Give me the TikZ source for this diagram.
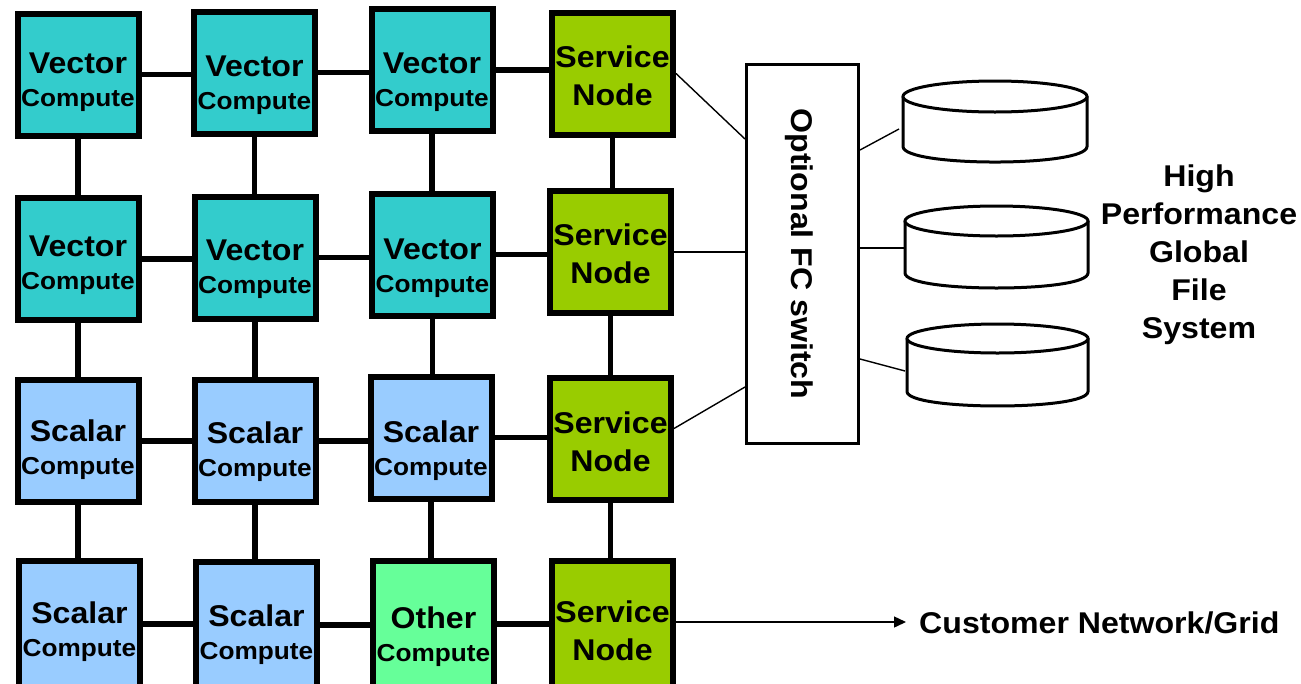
\documentclass[tikz,border=0pt]{standalone}
\usepackage{fontspec}
\usepackage{graphicx}
\setmainfont{Liberation Sans}
\usetikzlibrary{arrows.meta}
\definecolor{vec}{RGB}{51,204,204}
\definecolor{svc}{RGB}{153,204,0}
\definecolor{sca}{RGB}{153,204,255}
\definecolor{oth}{RGB}{102,255,153}
\newcommand\wide[1]{\scalebox{1.07}[1]{#1}}
\newcommand\compcell[6]{%
  \node[cell,#4] (#1) at (#2,#3) {};
  \node[bigtxt] (#1a) at (#2,#6) {\wide{#5}};
  \node[smalltxt] (#1b) at (#2,#6+33) {\wide{Compute}};}
\newcommand\servcell[5]{%
  \node[cell,fill=svc,#5] (#1) at (#2,#3) {};
  \node[bigtxt] (#1a) at (#2,#4) {\wide{Service}};
  \node[bigtxt] (#1b) at (#2,#4+38) {\wide{Node}};}
\begin{document}
\begin{tikzpicture}[x=1pt,y=-1pt,
  cell/.style={draw=black,line width=6pt,minimum width=121pt,minimum height=122pt,inner sep=0pt},
  tall/.style={minimum height=140pt},
  bigtxt/.style={font=\bfseries\fontsize{30}{30}\selectfont,anchor=base,inner sep=0pt},
  smalltxt/.style={font=\bfseries\fontsize{24.5}{24.5}\selectfont,anchor=base,inner sep=0pt},
  link/.style={line width=5.5pt},
  thinlink/.style={line width=1.4pt},
  cyl/.style={line width=3pt,fill=white},
  label/.style={font=\bfseries\fontsize{30}{38}\selectfont,inner sep=0pt},
]
\useasboundingbox (0,0) rectangle (1301,683);
\clip (0,0) rectangle (1301,683);

% row 0
\compcell{v00}{78}{74.5}{fill=vec}{Vector}{73}
\compcell{v01}{254.5}{72.5}{fill=vec}{Vector}{76}
\compcell{v02}{432}{70}{fill=vec}{Vector}{73}
\servcell{s03}{612.5}{73.5}{67}{}
% row 1
\compcell{v10}{78}{259}{fill=vec}{Vector}{256}
\compcell{v11}{255}{257.5}{fill=vec}{Vector}{260}
\compcell{v12}{432.5}{254.5}{fill=vec}{Vector}{259}
\servcell{s13}{610.5}{252}{245}{}
% row 2
\compcell{c20}{78}{441}{fill=sca}{Scalar}{441}
\compcell{c21}{255}{441}{fill=sca}{Scalar}{443}
\compcell{c22}{431}{437.5}{fill=sca}{Scalar}{442}
\servcell{s23}{610.5}{438.5}{433}{}
% row 3 (cut off by the lower edge)
\compcell{c30}{79.5}{631}{fill=sca,tall}{Scalar}{623}
\compcell{c31}{256.5}{632}{fill=sca,tall}{Scalar}{626}
\compcell{o32}{433.5}{631}{fill=oth,tall}{Other}{628}
\servcell{s33}{612.5}{631}{622}{tall}

% horizontal links
\foreach \r in {0,1}{
  \draw[link] (v\r0.east) -- (v\r0.east -| v\r1.west);
  \draw[link] (v\r1.east) -- (v\r1.east -| v\r2.west);
  \draw[link] (v\r2.east) -- (v\r2.east -| s\r3.west);}
\draw[link] (c20.east) -- (c20.east -| c21.west);
\draw[link] (c21.east) -- (c21.east -| c22.west);
\draw[link] (c22.east) -- (c22.east -| s23.west);
\draw[link] ([yshift=7pt]c30.east) -- ([yshift=7pt]c30.east -| c31.west);
\draw[link] ([yshift=7pt]c31.east) -- ([yshift=7pt]c31.east -| o32.west);
\draw[link] ([yshift=7pt]o32.east) -- ([yshift=7pt]o32.east -| s33.west);
% vertical links
\draw[link] (v00.south) -- (v00.south |- v10.north);
\draw[link] (v01.south) -- (v01.south |- v11.north);
\draw[link] (v02.south) -- (v02.south |- v12.north);
\draw[link] (s03.south) -- (s03.south |- s13.north);
\draw[link] (v10.south) -- (v10.south |- c20.north);
\draw[link] (v11.south) -- (v11.south |- c21.north);
\draw[link] (v12.south) -- (v12.south |- c22.north);
\draw[link] (s13.south) -- (s13.south |- s23.north);
\draw[link] (c20.south) -- (c20.south |- c30.north);
\draw[link] (c21.south) -- (c21.south |- c31.north);
\draw[link] (c22.south) -- (c22.south |- o32.north);
\draw[link] (s23.south) -- (s23.south |- s33.north);

% switch
\node[draw=black,line width=3pt,minimum width=112pt,minimum height=379pt,inner sep=0pt,fill=white] (sw) at (802.5,254) {};
\node[label,rotate=-90] (swt) at (799,254) {\wide{Optional FC switch}};
\draw[thinlink] (s03.east) -- ([yshift=115pt]sw.west);
\draw[thinlink] (s13.east) -- (s13.east -| sw.west);
\draw[thinlink] ([yshift=10pt]s23.east) -- ([yshift=-133pt]sw.west);

% storage cylinders
\draw[cyl] (903,96.5) -- (903,146.5) .. controls (903,167.2) and (1087,167.2) .. (1087,146.5) -- (1087,96.5);
\draw[cyl] (995,96.5) ellipse [x radius=92pt, y radius=15.5pt];
\draw[cyl] (905,221) -- (905,273) .. controls (905,293) and (1088,293) .. (1088,273) -- (1088,221);
\draw[cyl] (996.5,221) ellipse [x radius=91.5pt, y radius=15pt];
\draw[cyl] (907,338.5) -- (907,391.5) .. controls (907,410.8) and (1088,410.8) .. (1088,391.5) -- (1088,338.5);
\draw[cyl] (997.5,338.5) ellipse [x radius=90.5pt, y radius=14.5pt];
\coordinate (cy1) at (899,129);
\coordinate (cy2) at (905,248);
\coordinate (cy3) at (905,371);
\draw[thinlink] ([yshift=104pt]sw.east) -- (cy1);
\draw[thinlink] ([yshift=6pt]sw.east) -- (cy2);
\draw[thinlink] ([yshift=-105pt]sw.east) -- (cy3);

\node[label,align=center] (fs) at (1199,255) {\wide{High}\\\wide{Performance}\\\wide{Global}\\\wide{File}\\\wide{System}};

% customer network
\node[label,anchor=base west] (cust) at (919,633) {\wide{Customer Network/Grid}};
\coordinate (netend) at (906,622);
\draw[thinlink,-{Triangle[length=12pt,width=11pt]}] ([yshift=9pt]s33.east) -- (netend);
\end{tikzpicture}
\end{document}
